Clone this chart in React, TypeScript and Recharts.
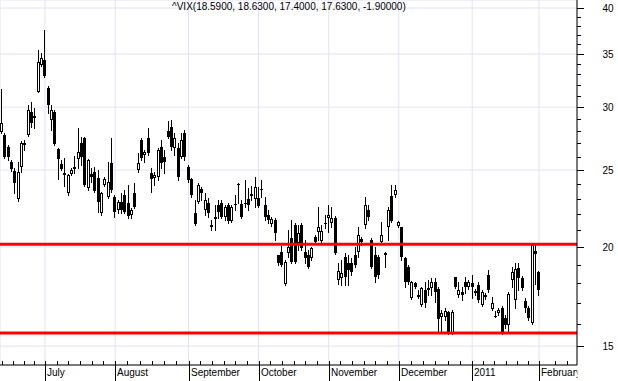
import React from "react";
import { Bar, CartesianGrid, ComposedChart, ReferenceLine, XAxis, YAxis } from "recharts";

// daily VIX candles, 14 Jun 2010 .. 1 Feb 2011 (one entry per trading day)
const opens = [
  27.93, 27.67, 26.75, 25.6, 24.93, 22.98, 25.24, 26.92, 27.67, 29.58, 29.2, 31.38, 33.9, 34.4, 31.74, 28.9,
  29.58, 26.57, 25.43, 24.78, 23.39, 24.71, 25.21, 25.81, 27.03, 27.43, 23.72, 24.71, 24.86, 24.43, 22.07, 23.93,
  23.12, 25.51, 23.14, 22.26, 22.8, 23.25, 22.71, 21.94, 23.39, 25.0, 27.27, 26.11, 27.43, 24.78, 24.43, 24.5,
  26.72, 25.96, 27.99, 28.32, 26.65, 26.65, 25.96, 27.83, 25.21, 24.35, 22.07, 22.78, 23.65, 22.26, 22.71, 21.19,
  21.81, 22.58, 22.71, 21.81, 22.58, 21.56, 22.68, 23.97, 22.65, 22.75, 22.98, 23.32, 22.98, 23.05, 23.62, 22.58,
  21.94, 21.37, 21.62, 19.53, 19.7, 17.96, 19.64, 20.52, 21.31, 20.23, 21.31, 19.7, 19.53, 19.36, 20.58, 20.88,
  20.34, 21.4, 21.75, 21.43, 21.75, 18.17, 18.28, 19.42, 19.08, 19.08, 19.53, 19.7, 20.46, 21.31, 22.26, 20.4,
  19.53, 19.42, 20.28, 19.53, 21.19, 23.18, 23.25, 21.25, 21.19, 19.36, 18.86, 17.24, 18.01, 17.29, 16.89, 17.65,
  17.65, 17.75, 18.06, 17.7, 16.31, 16.31, 16.55, 15.58, 18.33, 17.39, 17.54, 18.06, 17.8, 18.01, 17.59, 17.9,
  16.89, 17.39, 18.43, 16.7, 16.36, 16.51, 16.75, 16.26, 15.94, 18.17, 17.14, 18.81, 18.28, 17.09, 16.75, 16.03,
  19.76, 18.59,
];
const highs = [
  31.6, 27.83, 26.88, 25.73, 25.14, 25.58, 27.19, 27.27, 30.19, 30.45, 29.92, 35.41, 35.1, 37.53, 31.9, 30.19,
  29.75, 26.65, 25.73, 25.88, 24.71, 25.14, 26.03, 28.24, 27.51, 27.51, 25.81, 25.14, 25.21, 25.0, 23.45, 24.5,
  25.58, 27.43, 23.25, 22.91, 23.39, 23.59, 23.93, 22.39, 24.07, 26.26, 27.43, 26.49, 28.24, 25.14, 24.86, 26.65,
  27.27, 26.49, 28.82, 28.9, 27.83, 27.03, 27.83, 28.07, 25.36, 24.43, 22.91, 24.07, 23.79, 23.39, 23.05, 21.62,
  22.58, 22.91, 22.91, 22.58, 22.71, 22.58, 23.25, 24.07, 22.91, 24.28, 23.72, 23.86, 24.5, 23.79, 24.28, 23.12,
  22.26, 21.81, 21.75, 19.53, 20.05, 19.25, 21.0, 21.62, 21.43, 21.31, 21.43, 20.4, 19.82, 19.99, 20.7, 22.45,
  21.31, 21.94, 22.58, 22.45, 21.87, 19.08, 19.25, 19.64, 19.53, 19.36, 19.99, 21.19, 20.58, 23.12, 22.58, 20.52,
  19.99, 19.53, 21.5, 19.7, 22.45, 23.93, 23.93, 21.56, 21.19, 19.42, 18.97, 18.11, 18.06, 17.65, 17.8, 18.06,
  18.17, 18.28, 18.28, 17.8, 16.65, 16.75, 16.6, 16.65, 18.33, 18.06, 17.8, 18.33, 18.17, 18.43, 17.7, 18.06,
  17.65, 17.49, 18.7, 17.29, 16.6, 16.75, 16.84, 16.41, 17.54, 18.86, 19.08, 19.08, 18.38, 17.24, 16.84, 20.16,
  20.11, 18.63,
];
const lows = [
  27.85, 25.88, 25.73, 24.93, 23.39, 22.85, 24.86, 26.49, 27.59, 28.32, 28.24, 31.35, 33.8, 32.74, 29.49, 28.07,
  26.88, 24.35, 25.0, 23.86, 23.25, 24.64, 24.78, 25.14, 25.36, 23.86, 23.59, 24.14, 23.45, 22.13, 21.94, 23.86,
  23.05, 23.45, 21.83, 22.07, 22.07, 22.07, 21.75, 21.75, 22.39, 24.86, 25.73, 25.58, 26.11, 23.45, 23.93, 24.28,
  25.14, 24.78, 27.43, 26.49, 26.11, 24.28, 25.88, 25.73, 24.14, 23.12, 21.31, 22.71, 22.91, 21.94, 21.81, 21.0,
  21.0, 21.75, 21.75, 21.62, 21.43, 21.5, 22.26, 22.71, 21.75, 22.45, 22.26, 22.91, 22.45, 22.45, 23.12, 21.62,
  21.43, 21.25, 20.4, 18.97, 18.92, 17.91, 19.42, 19.08, 19.08, 19.82, 19.82, 19.08, 18.81, 19.25, 20.23, 20.4,
  20.28, 21.12, 20.88, 21.19, 19.59, 17.96, 17.9, 17.9, 17.9, 18.43, 18.86, 19.42, 20.11, 21.12, 21.62, 18.81,
  18.06, 18.28, 20.23, 18.86, 20.4, 21.5, 23.12, 21.19, 19.25, 17.8, 17.96, 17.19, 17.75, 17.24, 16.84, 16.79,
  17.39, 17.39, 17.04, 15.62, 15.58, 16.17, 15.54, 15.54, 17.75, 17.29, 17.14, 17.49, 17.7, 17.24, 17.39, 17.04,
  16.84, 17.19, 17.54, 16.65, 16.31, 16.41, 15.54, 15.8, 15.58, 17.8, 16.75, 17.65, 17.65, 16.55, 16.17, 15.99,
  17.96, 17.4,
];
const closes = [
  28.67, 25.96, 25.98, 25.07, 24.07, 24.88, 27.06, 27.0, 29.75, 28.65, 29.11, 34.23, 34.6, 32.88, 30.19, 29.75,
  26.96, 25.81, 25.07, 24.64, 24.64, 25.0, 25.07, 26.34, 25.96, 23.93, 25.73, 24.5, 23.52, 22.78, 23.39, 24.35,
  24.14, 23.59, 22.15, 22.8, 22.26, 22.15, 21.87, 22.26, 22.45, 25.51, 25.88, 26.34, 26.26, 24.35, 24.64, 26.49,
  25.51, 25.58, 27.51, 26.72, 27.43, 24.5, 27.27, 25.96, 24.28, 23.25, 21.37, 23.93, 23.39, 22.91, 22.07, 21.31,
  21.68, 22.13, 21.81, 22.45, 21.56, 22.45, 22.61, 24.04, 21.81, 22.68, 22.58, 23.18, 23.79, 22.51, 23.69, 21.81,
  21.62, 21.68, 20.82, 19.08, 18.97, 19.14, 19.99, 19.14, 19.14, 20.82, 19.93, 19.36, 18.86, 19.93, 20.28, 21.19,
  20.94, 21.46, 21.94, 21.75, 19.64, 18.65, 18.54, 18.33, 18.7, 18.59, 18.97, 20.7, 20.28, 22.58, 21.81, 18.86,
  18.33, 18.43, 20.7, 19.64, 22.26, 21.56, 23.59, 21.5, 19.42, 18.06, 18.06, 18.06, 17.8, 17.39, 17.75, 16.99,
  17.75, 18.06, 17.54, 16.22, 16.51, 16.6, 15.58, 16.55, 17.8, 17.65, 17.39, 17.8, 18.06, 17.8, 17.49, 17.14,
  17.54, 17.29, 17.65, 16.99, 16.38, 16.65, 15.58, 15.94, 17.44, 18.59, 18.75, 18.28, 17.75, 16.75, 16.26, 20.11,
  19.59, 17.63,
];

// first trading day of each month, as index into the arrays above
const monthStarts = [13, 34, 56, 77, 98, 119, 141, 161];
const monthLabels = ["July", "August", "September", "October", "November", "December", "2011", "February"];
const priceTicks = [15, 20, 25, 30, 35, 40];
const levels = [20.15, 15.58];
const headline = "^VIX(18.5900, 18.6300, 17.4000, 17.6300, -1.90000)";

const xDomain = [-0.48, 172.4];
const yDomain = [14.2, 40.94];
const PLOT_RIGHT = 577;
const FONT = "'Liberation Sans', Arial, sans-serif";

const data = opens.map((o, i) => ({
  i,
  open: o,
  high: highs[i],
  low: lows[i],
  close: closes[i],
  range: [lows[i], highs[i]],
}));

// small ticks: month split in 6, plus a few outside the first/last month
const minorTicks: number[] = [];
for (let k = 1; k <= 4; k++) minorTicks.push(monthStarts[0] - k * 3.2);
for (let m = 0; m < monthStarts.length - 1; m++) {
  const step = (monthStarts[m + 1] - monthStarts[m]) / 6;
  for (let k = 1; k < 6; k++) minorTicks.push(monthStarts[m] + k * step);
}
minorTicks.push(monthStarts[monthStarts.length - 1] + 4.8, monthStarts[monthStarts.length - 1] + 8.4);
const xTicks = [...monthStarts, ...minorTicks].sort((a, b) => a - b);

const yTicks: number[] = [];
for (let v = 15; v <= 40; v++) yTicks.push(v);

function Candle(props: any) {
  const { x, y, width, height, payload } = props;
  if (x == null || y == null || !payload) return null;
  const top = Math.min(y, y + height);
  const h = Math.abs(height);
  const span = Math.log(payload.high / payload.low);
  const at = (v: number) => (span > 0 ? top + (Math.log(payload.high / v) / span) * h : top);
  const cx = Math.floor(x + width / 2);
  const up = payload.close > payload.open;
  const b1 = Math.round(at(Math.max(payload.open, payload.close)));
  const b2 = Math.round(at(Math.min(payload.open, payload.close)));
  const bh = Math.max(1, b2 - b1);
  return (
    <g shapeRendering="crispEdges">
      <line x1={cx + 0.5} x2={cx + 0.5} y1={Math.round(top)} y2={Math.round(top + h) + 1} stroke="#000" />
      {up && bh >= 3 ? (
        <rect x={cx - 0.5} y={b1 + 0.5} width={2} height={bh - 1} fill="#fff" stroke="#000" />
      ) : (
        <rect x={cx - 1} y={b1} width={3} height={bh} fill="#000" />
      )}
    </g>
  );
}

function TimeTick(props: any) {
  const { x, y, payload } = props;
  const px = Math.round(x) + 0.5;
  const m = monthStarts.indexOf(payload.value);
  if (m < 0) {
    return <line x1={px} x2={px} y1={y - 4} y2={y} stroke="#000" shapeRendering="crispEdges" />;
  }
  return (
    <g>
      <line x1={px} x2={px} y1={y - 4} y2={y + 16} stroke="#000" shapeRendering="crispEdges" />
      <svg x={px + 0.5} y={y} width={Math.max(0, PLOT_RIGHT - px)} height={16} overflow="hidden">
        <text x={1} y={11} fontSize={10} fontFamily={FONT} fill="#000">
          {monthLabels[m]}
        </text>
      </svg>
    </g>
  );
}

function PriceTick(props: any) {
  const { x, y, payload } = props;
  const v = payload.value;
  const major = v % 5 === 0;
  const py = Math.round(y) + 0.5;
  return (
    <g>
      <line x1={x} x2={x + (major ? 7 : 4)} y1={py} y2={py} stroke="#000" shapeRendering="crispEdges" />
      {major && (
        <text x={x + 31} y={y + 4} textAnchor="middle" fontSize={10} fontFamily={FONT} fill="#000">
          {v}
        </text>
      )}
    </g>
  );
}

export default function App() {
  return (
    <div style={{ position: "absolute", left: 0, top: 0, width: 618, height: 381, background: "#fff" }}>
      <ComposedChart width={618} height={381} data={data} margin={{ top: 0, right: 0, bottom: 0, left: 0 }}>
        <XAxis xAxisId="grid" type="number" dataKey="i" domain={xDomain} allowDataOverflow ticks={monthStarts} hide />
        <YAxis yAxisId="grid" type="number" scale="log" domain={yDomain} allowDataOverflow ticks={priceTicks} hide />
        <CartesianGrid xAxisId="grid" yAxisId="grid" stroke="#e2e2f6" />
        <XAxis
          type="number"
          dataKey="i"
          domain={xDomain}
          allowDataOverflow
          ticks={xTicks}
          interval={0}
          height={16}
          tickLine={false}
          tickSize={0}
          tickMargin={0}
          axisLine={{ stroke: "#000" }}
          tick={(p: any) => <TimeTick {...p} />}
        />
        <YAxis
          orientation="right"
          type="number"
          scale="log"
          domain={yDomain}
          allowDataOverflow
          ticks={yTicks}
          interval={0}
          width={41}
          tickLine={false}
          tickSize={0}
          tickMargin={0}
          axisLine={{ stroke: "#000" }}
          tick={(p: any) => <PriceTick {...p} />}
        />
        <Bar dataKey="range" barSize={3} shape={(p: any) => <Candle {...p} />} isAnimationActive={false} />
        {levels.map((v) => (
          <ReferenceLine key={v} y={v} stroke="#ff0000" strokeWidth={3} />
        ))}
      </ComposedChart>
      <div
        style={{
          position: "absolute",
          left: 172,
          top: 1,
          fontSize: 10,
          fontFamily: FONT,
          color: "#000",
          whiteSpace: "nowrap",
          lineHeight: "12px",
        }}
      >
        {headline}
      </div>
    </div>
  );
}
